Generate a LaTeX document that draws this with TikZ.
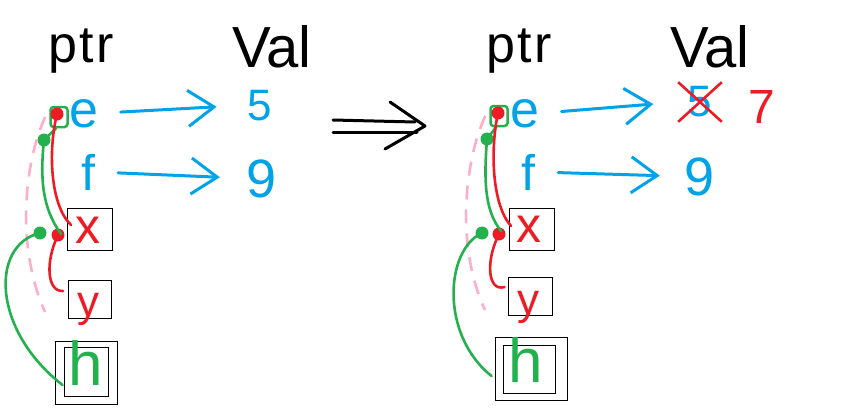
\documentclass[tikz,border=0pt]{standalone}
\usepackage{fontspec}
\setmainfont{Liberation Sans}
\usetikzlibrary{arrows.meta,shapes.misc}
\definecolor{cblue}{RGB}{0,162,232}
\definecolor{cred}{RGB}{237,28,36}
\definecolor{cgreen}{RGB}{34,177,76}
\definecolor{cpink}{RGB}{255,174,201}
\begin{document}
\begin{tikzpicture}[x=1pt,y=-1pt,
  fs/.style={font=\fontsize{#1}{#1}\selectfont},
  wide/.style={font=\fontsize{#1}{#1}\selectfont\addfontfeatures{LetterSpace=5}},
  lbl/.style={inner sep=0pt, anchor=base},
  boxnode/.style={draw=black, line width=0.9pt, inner sep=0pt},
  ptrarrow/.style={draw=cblue, line width=3pt, line cap=round,
    -{Straight Barb[length=26pt,width=36pt,line width=3pt]}},
  rdot/.style={circle, fill=cred, minimum size=13pt, inner sep=0pt},
  gdot/.style={circle, fill=cgreen, minimum size=13pt, inner sep=0pt},
  gsq/.style={draw=cgreen, line width=2.5pt, rounded corners=3pt, minimum width=17pt, minimum height=20pt, inner sep=0pt},
  redline/.style={draw=cred, line width=2.6pt, line cap=round},
  greenline/.style={draw=cgreen, line width=2.6pt, line cap=round},
  pinkline/.style={draw=cpink, line width=2.6pt, dash pattern=on 14pt off 10pt},
  implies/.style={draw=black, line width=3pt, line cap=round, line join=round}]
\useasboundingbox (0,0) rectangle (843,407);

% ===== left panel =====
\node[lbl, wide=52] (ptrA) at (81,62) {ptr};
\node[lbl, fs=58] (valA) at (272,67) {Val};
\node[lbl, fs=52, text=cblue] (eA) at (84,127) {e};
\node[lbl, fs=50, text=cblue] (fA) at (88,190) {f};
\node[lbl, fs=44, text=cblue] (fiveA) at (260,120) {5};
\node[lbl, fs=54, text=cblue] (nineA) at (262,197) {9};
\draw[ptrarrow, shorten <=22pt, shorten >=31pt] (eA.east) -- (fiveA.west);
\draw[ptrarrow, shorten <=23pt, shorten >=27pt] (fA.east) -- (nineA.west);

\node[boxnode, minimum width=45pt, minimum height=42pt] (xA) at (90,229) {};
\node[lbl, fs=50, text=cred] (xlA) at (88,243) {x};
\node[boxnode, minimum width=43pt, minimum height=38pt] (yA) at (90,299) {};
\node[lbl, fs=44, text=cred] (ylA) at (88,316) {y};
\node[boxnode, minimum width=62pt, minimum height=63pt] (hA) at (86,373) {};
\node[boxnode, minimum width=44pt, minimum height=49pt] (hAin) at (86,372) {};
\node[lbl, fs=62, text=cgreen] (hlA) at (86,385) {h};

\node[gsq] (sqA) at (59,117) {};
\node[rdot] (rA) at (57,114) {};
\node[gdot] (gA) at (44,140) {};
\node[gdot] (gB) at (40,233) {};
\node[rdot] (rB) at (58,235) {};
\coordinate (pA) at (45,312);

\draw[pinkline] ([xshift=-4pt]sqA.west) .. controls (25,160) and (15,245) .. (pA);
\draw[greenline] ([xshift=-3pt]sqA.south) -- (gA.center) .. controls (40,178) and (42,208) .. ([shift={(-6pt,-5pt)}]xA.west);
\draw[redline] (rA.center) .. controls (48,150) and (50,205) .. ([shift={(4pt,4pt)}]xA.west);
\draw[greenline] (gB.center) .. controls (-10,245) and (-8,330) .. ([shift={(8pt,-12pt)}]hA.west);
\draw[redline] (rB.center) .. controls (45,262) and (47,292) .. ([shift={(-5pt,8pt)}]yA.west);

% ===== big implies arrow =====
\coordinate (iA) at (333,127);
\coordinate (iB) at (425,126);
\draw[implies] ([yshift=-5pt]iA) -- ([shift={(-8pt,-6pt)}]iB);
\draw[implies] ([yshift=7pt]iA) -- ([shift={(-10pt,4pt)}]iB);
\draw[implies] ([shift={(-40pt,-23pt)}]iB) -- (iB) -- ([shift={(-35pt,24pt)}]iB);

% ===== right panel =====
\node[lbl, wide=52] (ptrB) at (519,62) {ptr};
\node[lbl, fs=58] (valB) at (710,67) {Val};
\node[lbl, fs=52, text=cblue] (eB) at (525,127) {e};
\node[lbl, fs=50, text=cblue] (fB) at (528,190) {f};
\node[cross out, draw=cred, line width=2.6pt, text=cblue, fs=44, inner sep=0pt,
      minimum width=41pt, minimum height=37pt] (fiveB) at (700,102) {5};
\node[lbl, fs=48, text=cred] (sevenB) at (762,123) {7};
\node[lbl, fs=54, text=cblue] (nineB) at (700,195) {9};
\draw[ptrarrow, shorten <=22pt, shorten >=25pt] (eB.east) -- (fiveB.west);
\draw[ptrarrow, shorten <=23pt, shorten >=25pt] (fB.east) -- (nineB.west);

\node[boxnode, minimum width=45pt, minimum height=42pt] (xB) at (532,229) {};
\node[lbl, fs=50, text=cred] (xlB) at (529,242) {x};
\node[boxnode, minimum width=44pt, minimum height=38pt] (yB) at (530,296) {};
\node[lbl, fs=44, text=cred] (ylB) at (528,314) {y};
\node[boxnode, minimum width=72pt, minimum height=63pt] (hB) at (531,369) {};
\node[boxnode, minimum width=52pt, minimum height=48pt] (hBin) at (529,369) {};
\node[lbl, fs=62, text=cgreen] (hlB) at (526,382) {h};

\node[gsq] (sqB) at (499,116) {};
\node[rdot] (rC) at (498,113) {};
\node[gdot] (gC) at (487,139) {};
\node[gdot] (gD) at (482,233) {};
\node[rdot] (rD) at (499,234) {};
\coordinate (pB) at (485,310);

\draw[pinkline] ([xshift=-4pt]sqB.west) .. controls (465,160) and (455,245) .. (pB);
\draw[greenline] ([xshift=-3pt]sqB.south) -- (gC.center) .. controls (484,178) and (484,210) .. ([shift={(-8pt,-2pt)}]xB.west);
\draw[redline] (rC.center) .. controls (490,150) and (492,205) .. ([shift={(2pt,3pt)}]xB.west);
\draw[greenline] (gD.center) .. controls (445,250) and (440,335) .. ([shift={(-3pt,-7pt)}]hB.west);
\draw[redline] (rD.center) .. controls (485,262) and (488,292) .. ([shift={(-3pt,9pt)}]yB.west);
\end{tikzpicture}
\end{document}
